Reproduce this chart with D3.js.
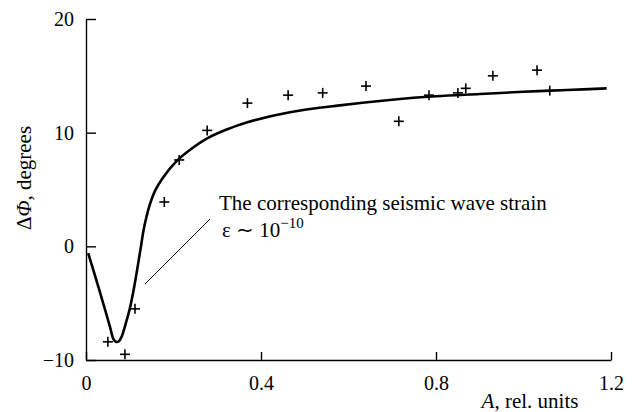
<!DOCTYPE html>
<html>
<head>
<meta charset="utf-8">
<script src="https://cdn.jsdelivr.net/npm/d3@7"></script>
<style>
  body { margin: 0; background: #fff; }
  text { font-family: "Liberation Serif", "Times New Roman", serif; }
</style>
</head>
<body>
<script>
// measured points (crosses)
const pointA = [0.05, 0.089, 0.112, 0.179, 0.213, 0.277, 0.369, 0.462, 0.541, 0.64, 0.715, 0.784, 0.85, 0.868, 0.93, 1.031, 1.06];
const pointPhi = [-8.4, -9.5, -5.5, 3.9, 7.6, 10.2, 12.6, 13.3, 13.5, 14.1, 11.0, 13.3, 13.5, 13.9, 15.0, 15.5, 13.7];

// fitted curve
const curveA = [0.005, 0.02, 0.04, 0.055, 0.062, 0.068, 0.075, 0.082, 0.09, 0.1, 0.11, 0.124, 0.133, 0.146, 0.158, 0.175, 0.207, 0.238, 0.277, 0.32, 0.367, 0.466, 0.58, 0.7, 0.8, 0.9, 1.0, 1.1, 1.19];
const curvePhi = [-0.6, -2.5, -5.1, -7.1, -8.1, -8.4, -8.35, -7.9, -6.9, -5.5, -3.6, -0.4, 1.7, 3.7, 4.9, 6.0, 7.5, 8.5, 9.5, 10.25, 10.9, 11.8, 12.4, 12.9, 13.2, 13.4, 13.6, 13.75, 13.9];

const xTicks = [0, 0.4, 0.8, 1.2];
const xTickLabels = ['0', '0.4', '0.8', '1.2'];
const yTicks = [-10, 0, 10, 20];
const yTickLabels = ['\u221210', '0', '10', '20'];

const width = 636, height = 412;
const tickFont = 20;
const labelFont = 21;

const svg = d3.select('body').append('svg')
  .attr('width', width)
  .attr('height', height);

const x = d3.scaleLinear().domain([0, 1.2]).range([86, 611]);
const y = d3.scaleLinear().domain([-10, 20]).range([360, 19]);

// x axis
const xAxis = svg.append('g')
  .attr('transform', `translate(0,${y(-10)})`)
  .call(d3.axisBottom(x)
    .tickValues(xTicks)
    .tickFormat((d, i) => xTickLabels[i])
    .tickSizeInner(-8)
    .tickSizeOuter(0)
    .tickPadding(16));

// y axis
const yAxis = svg.append('g')
  .attr('transform', `translate(${x(0)},0)`)
  .call(d3.axisLeft(y)
    .tickValues(yTicks)
    .tickFormat((d, i) => yTickLabels[i])
    .tickSizeInner(-10)
    .tickSizeOuter(0)
    .tickPadding(12));

[xAxis, yAxis].forEach(g => {
  g.select('.domain').attr('stroke', '#000').attr('stroke-width', 1.4);
  g.selectAll('.tick line').attr('stroke', '#000').attr('stroke-width', 1.4);
  g.selectAll('.tick text')
    .attr('fill', '#000')
    .style('font-family', '"Liberation Serif", serif')
    .style('font-size', tickFont + 'px');
});

// axis titles
svg.append('text')
  .attr('x', 530)
  .attr('y', 408)
  .attr('text-anchor', 'middle')
  .style('font-size', labelFont + 'px')
  .html('<tspan font-style="italic">A</tspan>, rel. units');

svg.append('text')
  .attr('transform', 'translate(31,178) rotate(-90)')
  .attr('text-anchor', 'middle')
  .style('font-size', labelFont + 'px')
  .html('\u0394<tspan font-style="italic">\u03A6</tspan>, degrees');

// fitted curve
const curveData = curveA.map((a, i) => [a, curvePhi[i]]);
svg.append('path')
  .datum(curveData)
  .attr('fill', 'none')
  .attr('stroke', '#000')
  .attr('stroke-width', 2.6)
  .attr('stroke-linejoin', 'round')
  .attr('d', d3.line()
    .x(d => x(d[0]))
    .y(d => y(d[1]))
    .curve(d3.curveCatmullRom.alpha(0.5)));

// crosses
const half = 5;
const crosses = svg.append('g')
  .selectAll('g')
  .data(pointA.map((a, i) => [a, pointPhi[i]]))
  .enter()
  .append('g')
  .attr('transform', d => `translate(${x(d[0])},${y(d[1])})`);

crosses.append('line')
  .attr('x1', -half).attr('x2', half)
  .attr('stroke', '#000').attr('stroke-width', 1.6);
crosses.append('line')
  .attr('y1', -half).attr('y2', half)
  .attr('stroke', '#000').attr('stroke-width', 1.6);

// annotation
svg.append('line')
  .attr('x1', 210).attr('y1', 219)
  .attr('x2', 145).attr('y2', 284)
  .attr('stroke', '#000')
  .attr('stroke-width', 1);

svg.append('text')
  .attr('x', 219)
  .attr('y', 210)
  .style('font-size', labelFont + 'px')
  .text('The corresponding seismic wave strain');

const eps = svg.append('text')
  .attr('x', 222)
  .attr('y', 237)
  .style('font-size', labelFont + 'px');
eps.append('tspan').text('\u03B5 \u223C 10');
eps.append('tspan')
  .attr('dy', -9)
  .style('font-size', '15px')
  .text('\u221210');
</script>
</body>
</html>
